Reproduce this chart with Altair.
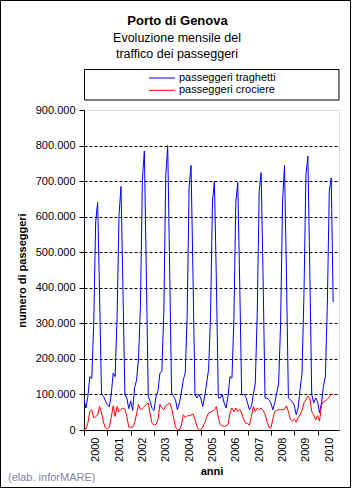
import altair as alt
import pandas as pd

# ---------------- data ----------------
years = [2000, 2001, 2002, 2003, 2004, 2005, 2006, 2007, 2008, 2009, 2010]
month_numbers = [1, 2, 3, 4, 5, 6, 7, 8, 9, 10, 11, 12]

# passeggeri traghetti (monthly, Jan..Dec)
traghetti_2000 = [85000, 62000, 95000, 150000, 145000, 300000, 585000, 640000, 380000, 100000, 95000, 82000]
traghetti_2001 = [72000, 65000, 100000, 160000, 150000, 320000, 605000, 685000, 400000, 100000, 90000, 60000]
traghetti_2002 = [82000, 55000, 120000, 140000, 200000, 350000, 705000, 785000, 450000, 95000, 80000, 60000]
traghetti_2003 = [55000, 95000, 110000, 160000, 165000, 330000, 715000, 800000, 455000, 104000, 95000, 85000]
traghetti_2004 = [57000, 76000, 104000, 141000, 160000, 320000, 683000, 744000, 430000, 100000, 90000, 100000]
traghetti_2005 = [90000, 66000, 95000, 132000, 170000, 320000, 643000, 699000, 420000, 90000, 90000, 100000]
traghetti_2006 = [76000, 62000, 95000, 150000, 146000, 310000, 643000, 696000, 410000, 100000, 100000, 95000]
traghetti_2007 = [76000, 57000, 66000, 100000, 132000, 330000, 671000, 724000, 430000, 90000, 90000, 85000]
traghetti_2008 = [76000, 57000, 76000, 104000, 132000, 300000, 641000, 744000, 440000, 90000, 85000, 80000]
traghetti_2009 = [70000, 43000, 62000, 113000, 160000, 380000, 716000, 770000, 450000, 100000, 76000, 90000]
traghetti_2010 = [80000, 48000, 76000, 123000, 150000, 350000, 671000, 709000, 360000]

# passeggeri crociere (monthly, Jan..Dec)
crociere_2000 = [0, 3000, 20000, 52000, 57000, 34000, 38000, 42000, 66000, 48000, 22000, 6000]
crociere_2001 = [2000, 8000, 35000, 68000, 38000, 66000, 52000, 58000, 62000, 58000, 38000, 8000]
crociere_2002 = [8000, 8000, 20000, 45000, 72000, 57000, 60000, 65000, 72000, 76000, 45000, 18000]
crociere_2003 = [15000, 15000, 30000, 72000, 62000, 57000, 68000, 72000, 76000, 62000, 35000, 8000]
crociere_2004 = [2000, 0, 12000, 43000, 35000, 40000, 40000, 42000, 45000, 30000, 10000, 0]
crociere_2005 = [0, 8000, 20000, 35000, 48000, 50000, 53000, 57000, 66000, 35000, 15000, 12000]
crociere_2006 = [10000, 12000, 15000, 48000, 62000, 52000, 62000, 52000, 58000, 48000, 30000, 20000]
crociere_2007 = [18000, 14000, 38000, 66000, 52000, 62000, 57000, 62000, 55000, 45000, 24000, 8000]
crociere_2008 = [5000, 30000, 52000, 55000, 57000, 57000, 57000, 58000, 68000, 52000, 30000, 25000]
crociere_2009 = [30000, 22000, 34000, 43000, 55000, 76000, 85000, 95000, 90000, 52000, 43000, 29000]
crociere_2010 = [40000, 25000, 70000, 80000, 82000, 87000, 93000, 101000, 99000]

traghetti = [traghetti_2000, traghetti_2001, traghetti_2002, traghetti_2003, traghetti_2004,
             traghetti_2005, traghetti_2006, traghetti_2007, traghetti_2008, traghetti_2009,
             traghetti_2010]
crociere = [crociere_2000, crociere_2001, crociere_2002, crociere_2003, crociere_2004,
            crociere_2005, crociere_2006, crociere_2007, crociere_2008, crociere_2009,
            crociere_2010]

series_names = ["passeggeri traghetti", "passeggeri crociere"]
series_colors = ["#0000FF", "#FF0000"]
y_tick_values = [0, 100000, 200000, 300000, 400000, 500000, 600000, 700000, 800000, 900000]
x_tick_years = years

title_text = "Porto di Genova"
subtitle_lines = ["Evoluzione mensile del", "traffico dei passeggeri"]
source_text = "(elab. inforMARE)"

# ---------------- table ----------------
rows = []
for s_name, s_values in zip(series_names, [traghetti, crociere]):
    for yr, vals in zip(years, s_values):
        for mn, v in zip(month_numbers, vals):
            rows.append({"t": yr + (mn - 1) / 12.0, "value": v, "serie": s_name})
df = pd.DataFrame(rows)

W, H = 255, 320
FONT = "Liberation Sans"

x_axis = alt.Axis(
    values=x_tick_years, format="d", labelAngle=270, labelOffset=11.7,
    labelFontSize=11, labelColor="black", labelPadding=2,
    tickSize=5, tickColor="black", domainColor="black", grid=False,
    title="anni", titleFontSize=11, titleFontWeight="bold", titleColor="black",
    titlePadding=4,
)
y_axis = alt.Axis(
    values=y_tick_values,
    labelExpr="replace(format(datum.value, ','), ',', '.')",
    labelFontSize=11, labelColor="black", labelPadding=4,
    tickSize=5, tickColor="black", domainColor="black",
    grid=True, gridColor="black", gridDash=[3, 2], gridWidth=1,
    gridOpacity={"condition": {"test": "datum.value >= 900000", "value": 0}, "value": 1},
    title="numero di passeggeri", titleFontSize=11, titleFontWeight="bold",
    titleColor="black", titlePadding=8,
)

lines = alt.Chart(df).mark_line(strokeWidth=1, clip=True).encode(
    x=alt.X("t:Q", scale=alt.Scale(domain=[2000, 2000 + 131 / 12.0], nice=False, zero=False), axis=x_axis),
    y=alt.Y("value:Q", scale=alt.Scale(domain=[0, 900000], nice=False), axis=y_axis),
    color=alt.Color("serie:N", scale=alt.Scale(domain=series_names, range=series_colors), legend=None),
    order=alt.Order("t:Q"),
)

# legend box (drawn manually, Excel style)
leg_df = pd.DataFrame({"serie": series_names, "row": [0, 1]})
legend_box = alt.Chart(pd.DataFrame({"a": [0]})).mark_rect(
    fill="white", stroke="black", strokeWidth=1
).encode(x=alt.value(0.5), x2=alt.value(255), y=alt.value(-40.5), y2=alt.value(-10))

legend_layers = []
for i, (name, col) in enumerate(zip(series_names, series_colors)):
    one = pd.DataFrame({"serie": [name]})
    legend_layers.append(
        alt.Chart(one).mark_rule(color=col, strokeWidth=1).encode(
            x=alt.value(65), x2=alt.value(91), y=alt.value(-32 + 12.3 * i)
        )
    )
    legend_layers.append(
        alt.Chart(one).mark_text(align="left", baseline="middle", fontSize=11, color="black", font=FONT).encode(
            x=alt.value(95), y=alt.value(-32.5 + 12.3 * i), text="serie:N"
        )
    )

title_mark = alt.Chart(pd.DataFrame({"txt": [title_text]})).mark_text(
    align="center", baseline="middle", fontSize=13, fontWeight="bold", color="black", font=FONT
).encode(x=alt.value(93.5), y=alt.value(-89.5), text="txt:N")

sub_marks = []
for j, line in enumerate(subtitle_lines):
    sub_marks.append(
        alt.Chart(pd.DataFrame({"txt": [line]})).mark_text(
            align="center", baseline="middle", fontSize=12.5, color="black", font=FONT
        ).encode(x=alt.value(93), y=alt.value(-72.5 + 16 * j), text="txt:N")
    )

source_mark = alt.Chart(pd.DataFrame({"txt": [source_text]})).mark_text(
    align="left", baseline="middle", fontSize=11, color="#8484A4", font=FONT
).encode(x=alt.value(-76), y=alt.value(368), text="txt:N")

frame = alt.Chart(pd.DataFrame({"a": [0]})).mark_rect(
    fill=None, stroke="black", strokeWidth=1
).encode(x=alt.value(-83.5), x2=alt.value(266.5), y=alt.value(-109.5), y2=alt.value(377.5))

chart = alt.layer(
    lines, legend_box, *legend_layers, title_mark, *sub_marks, source_mark, frame
).properties(
    width=W, height=H,
    padding={"left": 84, "top": 110, "right": 15, "bottom": 59},
    autosize=alt.AutoSizeParams(type="none"),
    background="white",
).configure_view(
    fill="#E0E0E0", stroke="#808080", strokeWidth=1
).configure(font=FONT)

chart.save("out.html", embed_options={"renderer": "svg", "actions": False})
